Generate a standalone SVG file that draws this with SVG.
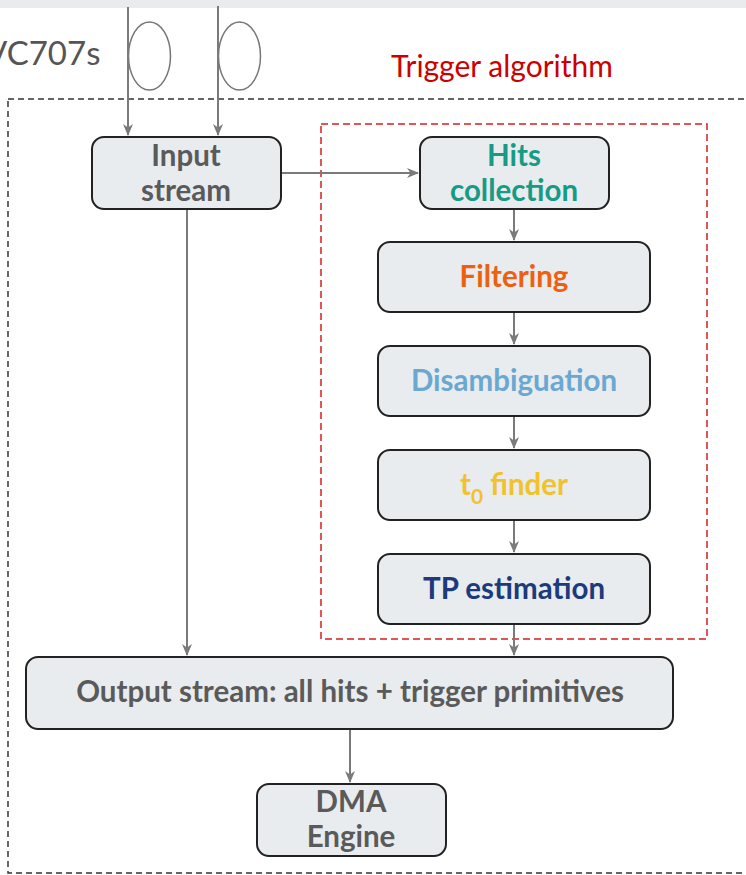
<svg xmlns="http://www.w3.org/2000/svg" width="746" height="875" viewBox="0 0 746 875">
  <style>
    .box { fill: #e8ecee; stroke: #222; stroke-width: 2; }
    .lbl { font-family: Lato, "Liberation Sans", sans-serif; font-weight: bold; font-size: 29.5px; text-anchor: middle; }
    .gray { fill: #5a5a5a; }
    .conn { stroke: #7a7a7a; stroke-width: 2; fill: none; marker-end: url(#arr); }
  </style>
  <defs>
    <marker id="arr" viewBox="0 0 12 10" markerWidth="12" markerHeight="10" refX="11" refY="5" orient="auto" markerUnits="userSpaceOnUse">
      <path d="M0,0 L12,5 L0,10 L3.5,5 z" fill="#7a7a7a"/>
    </marker>
  </defs>

  <!-- top band -->
  <rect x="0" y="0" width="746" height="8" fill="#e8ecee"/>

  <!-- board label (runs off the left edge) and fibre loops -->
  <text x="-15" y="65" font-family="Lato, 'Liberation Sans', sans-serif" font-size="33" fill="#555">VC707s</text>
  <ellipse cx="149.5" cy="56" rx="21" ry="34" fill="none" stroke="#777" stroke-width="1.5"/>
  <ellipse cx="239.5" cy="56" rx="21" ry="34" fill="none" stroke="#777" stroke-width="1.5"/>

  <!-- board outline -->
  <rect x="8" y="99" width="760" height="774" fill="none" stroke="#333" stroke-width="1.5" stroke-dasharray="6,4"/>

  <!-- trigger algorithm region -->
  <text x="502" y="77" font-family="Lato, 'Liberation Sans', sans-serif" font-size="30" fill="#cc0000" text-anchor="middle">Trigger algorithm</text>
  <rect x="321" y="124" width="386" height="515" fill="none" stroke="#d42020" stroke-width="1.5" stroke-dasharray="7,4"/>

  <!-- connectors -->
  <g id="connectors">
    <line class="conn" x1="128" y1="7" x2="128" y2="135"/>
    <line class="conn" x1="218" y1="6" x2="218" y2="135"/>
    <line class="conn" x1="282" y1="173" x2="418" y2="173"/>
    <line class="conn" x1="187" y1="210" x2="187" y2="655"/>
    <line class="conn" x1="514" y1="210" x2="514" y2="240"/>
    <line class="conn" x1="514" y1="313" x2="514" y2="344"/>
    <line class="conn" x1="514" y1="417" x2="514" y2="448"/>
    <line class="conn" x1="514" y1="521" x2="514" y2="552"/>
    <line class="conn" x1="514" y1="625" x2="514" y2="655"/>
    <line class="conn" x1="350" y1="730" x2="350" y2="782"/>
  </g>

  <g id="input-stream">
    <rect class="box" x="92" y="137" width="189" height="72" rx="12"/>
    <text class="lbl gray" x="186" y="166">Input</text>
    <text class="lbl gray" x="186" y="201">stream</text>
  </g>

  <g id="hits-collection">
    <rect class="box" x="420" y="137" width="189" height="72" rx="12"/>
    <text class="lbl" fill="#179a86" x="514" y="166">Hits</text>
    <text class="lbl" fill="#179a86" x="514" y="201">collection</text>
  </g>

  <g id="filtering">
    <rect class="box" x="378" y="242" width="272" height="70" rx="12"/>
    <text class="lbl" fill="#ee6010" x="514" y="287">Filtering</text>
  </g>

  <g id="disambiguation">
    <rect class="box" x="378" y="346" width="272" height="70" rx="12"/>
    <text class="lbl" fill="#6aa8d2" x="514" y="391">Disambiguation</text>
  </g>

  <g id="t0-finder">
    <rect class="box" x="378" y="450" width="272" height="70" rx="12"/>
    <text class="lbl" fill="#f2c22c" x="514" y="495">t<tspan font-size="21" dy="9">0</tspan><tspan dy="-9"> finder</tspan></text>
  </g>

  <g id="tp-estimation">
    <rect class="box" x="378" y="554" width="272" height="70" rx="12"/>
    <text class="lbl" fill="#1c3a7c" x="514" y="599">TP estimation</text>
  </g>

  <g id="output-stream">
    <rect class="box" x="26" y="657" width="647" height="72" rx="12"/>
    <text class="lbl gray" x="350" y="702">Output stream: all hits + trigger primitives</text>
  </g>

  <g id="dma-engine">
    <rect class="box" x="257" y="784" width="189" height="72" rx="12"/>
    <text class="lbl gray" x="351" y="812">DMA</text>
    <text class="lbl gray" x="351" y="847">Engine</text>
  </g>
</svg>
